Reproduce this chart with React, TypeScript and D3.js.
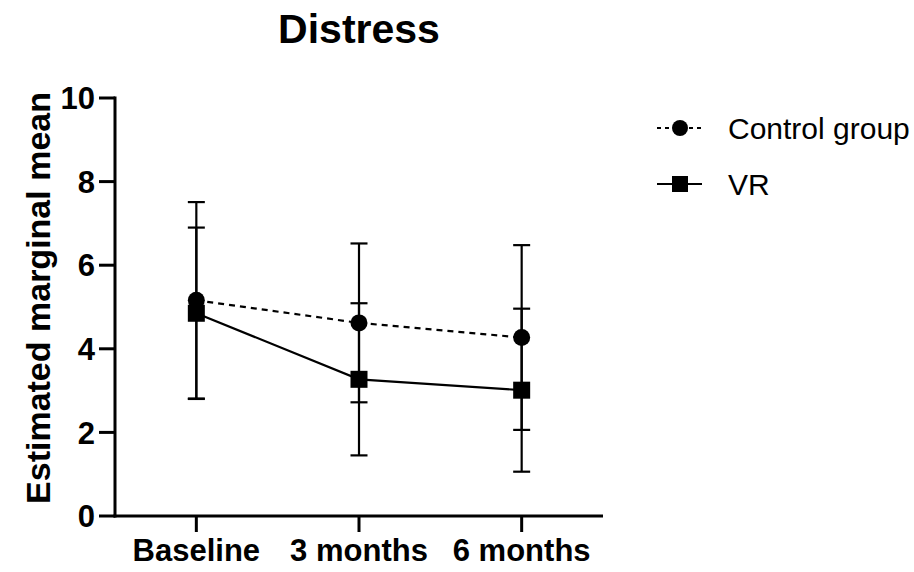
import React from "react";
import * as d3 from "d3";

const categories = ["Baseline", "3 months", "6 months"];
const controlMean = [5.16, 4.62, 4.27];
const controlErr = [2.35, 1.9, 2.21];
const vrMean = [4.85, 3.27, 3.01];
const vrErr = [2.05, 1.82, 1.95];
const yTicks = [0, 2, 4, 6, 8, 10];

const W = 914;
const H = 572;
const FONT = "'Liberation Sans', Arial, Helvetica, sans-serif";

export default function App() {
  const x = d3.scaleBand().domain(categories).range([115, 603]);
  const cx = (c: string) => (x(c) as number) + x.bandwidth() / 2;
  const y = d3.scaleLinear().domain([0, 10]).range([516, 98]);

  const series = [
    { name: "Control group", mean: controlMean, err: controlErr, dash: "6,5", marker: "circle" },
    { name: "VR", mean: vrMean, err: vrErr, dash: "", marker: "square" },
  ];

  const line = d3
    .line<number>()
    .x((_, i) => cx(categories[i]))
    .y((d) => y(d));

  const capW = 17;
  const ms = 17;

  return (
    <svg
      width={W}
      height={H}
      style={{ position: "absolute", left: 0, top: 0, background: "#fff" }}
      fontFamily={FONT}
    >
      <rect x={0} y={0} width={W} height={H} fill="#fff" />
      <text x={359} y={43} textAnchor="middle" fontSize={41} fontWeight="bold">
        Distress
      </text>
      <text
        transform={`translate(50,298) rotate(-90)`}
        textAnchor="middle"
        fontSize={34}
        fontWeight="bold"
      >
        Estimated marginal mean
      </text>

      {/* y axis */}
      <line x1={115} x2={115} y1={y(10) - 1.5} y2={y(0) + 1.5} stroke="#000" strokeWidth={3} />
      {yTicks.map((t) => (
        <g key={t}>
          <line x1={99} x2={115} y1={y(t)} y2={y(t)} stroke="#000" strokeWidth={3} />
          <text x={95} y={y(t)} dy="0.36em" textAnchor="end" fontSize={31} fontWeight="bold">
            {t}
          </text>
        </g>
      ))}

      {/* x axis */}
      <line x1={113.5} x2={603} y1={y(0)} y2={y(0)} stroke="#000" strokeWidth={3} />
      {categories.map((c) => (
        <g key={c}>
          <line x1={cx(c)} x2={cx(c)} y1={y(0)} y2={y(0) + 16} stroke="#000" strokeWidth={3} />
          <text x={cx(c)} y={561} textAnchor="middle" fontSize={31} fontWeight="bold">
            {c}
          </text>
        </g>
      ))}

      {/* error bars */}
      {series.map((s) =>
        categories.map((c, i) => {
          const px = cx(c);
          const top = y(s.mean[i] + s.err[i]);
          const bot = y(s.mean[i] - s.err[i]);
          return (
            <g key={s.name + c} stroke="#000" strokeWidth={2.2}>
              <line x1={px} x2={px} y1={top} y2={bot} />
              <line x1={px - capW / 2} x2={px + capW / 2} y1={top} y2={top} />
              <line x1={px - capW / 2} x2={px + capW / 2} y1={bot} y2={bot} />
            </g>
          );
        })
      )}

      {/* lines */}
      {series.map((s) => (
        <path
          key={s.name}
          d={line(s.mean) as string}
          fill="none"
          stroke="#000"
          strokeWidth={2.2}
          strokeDasharray={s.dash || undefined}
        />
      ))}

      {/* markers */}
      {series.map((s) =>
        s.mean.map((v, i) =>
          s.marker === "circle" ? (
            <circle key={s.name + i} cx={cx(categories[i])} cy={y(v)} r={ms / 2} fill="#000" />
          ) : (
            <rect
              key={s.name + i}
              x={cx(categories[i]) - ms / 2}
              y={y(v) - ms / 2}
              width={ms}
              height={ms}
              fill="#000"
            />
          )
        )
      )}

      {/* legend */}
      {series.map((s, i) => {
        const ly = 128 + i * 56;
        return (
          <g key={s.name}>
            <line
              x1={657}
              x2={702}
              y1={ly}
              y2={ly}
              stroke="#000"
              strokeWidth={2}
              strokeDasharray={s.dash ? "4,4" : undefined}
            />
            {s.marker === "circle" ? (
              <circle cx={680} cy={ly} r={8} fill="#000" />
            ) : (
              <rect x={672} y={ly - 8} width={16} height={16} fill="#000" />
            )}
            <text x={728} y={ly} dy="0.36em" fontSize={30}>
              {s.name}
            </text>
          </g>
        );
      })}
    </svg>
  );
}
